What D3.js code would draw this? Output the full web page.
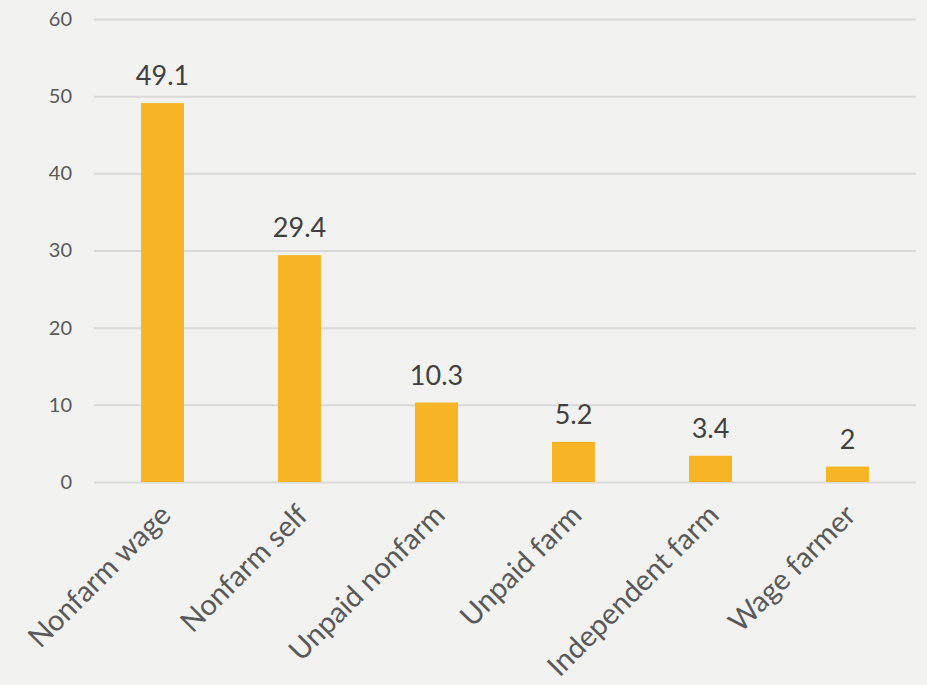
<!DOCTYPE html>
<html>
<head>
<meta charset="utf-8">
<script src="https://cdn.jsdelivr.net/npm/d3@7"></script>
<style>
  html, body { margin: 0; padding: 0; background: #f2f2f1; }
  svg { display: block; }
  text { font-family: Lato, "Open Sans", sans-serif; }
</style>
</head>
<body>
<svg id="chart" width="927" height="685"></svg>
<script>
// Employment type shares (%)
const categories = ["Nonfarm wage", "Nonfarm self", "Unpaid nonfarm", "Unpaid farm", "Independent farm", "Wage farmer"];
const values = [49.1, 29.4, 10.3, 5.2, 3.4, 2];
const valueLabels = ["49.1", "29.4", "10.3", "5.2", "3.4", "2"];
const yTicks = [0, 10, 20, 30, 40, 50, 60];

const svg = d3.select("#chart");
const W = 927, H = 685;
const margin = { top: 19, right: 11, bottom: 203, left: 94 };
const plotW = W - margin.left - margin.right;
const plotH = H - margin.top - margin.bottom;

svg.append("rect").attr("width", W).attr("height", H).attr("fill", "#f2f2f1");

const g = svg.append("g").attr("transform", `translate(${margin.left},${margin.top})`);

const x = d3.scaleBand().domain(categories).range([0, plotW]).paddingInner(0.686).paddingOuter(0.343);
const y = d3.scaleLinear().domain([0, 60]).range([plotH, 0]);

// Horizontal gridlines with tick labels
const yAxis = d3.axisLeft(y).tickValues(yTicks).tickSize(-plotW).tickPadding(22).tickFormat(d3.format("d"));
const ya = g.append("g").call(yAxis);
ya.select(".domain").remove();
ya.selectAll(".tick line").attr("stroke", "#d9d9d9").attr("stroke-width", 2);
ya.selectAll(".tick text").attr("fill", "#595959").attr("font-size", 20).attr("font-family", "Lato, sans-serif");

// Bars
g.selectAll("rect.bar").data(values).join("rect")
  .attr("class", "bar")
  .attr("x", (d, i) => x(categories[i]))
  .attr("y", d => y(d))
  .attr("width", x.bandwidth())
  .attr("height", d => y(0) - y(d))
  .attr("fill", "#f7b425");

// Value labels above bars
g.selectAll("text.val").data(values).join("text")
  .attr("class", "val")
  .attr("x", (d, i) => x(categories[i]) + x.bandwidth() / 2)
  .attr("y", d => y(d) - 18)
  .attr("text-anchor", "middle")
  .attr("fill", "#404040")
  .attr("font-size", 27)
  .text((d, i) => valueLabels[i]);

// Category axis, labels rotated -45°
const xAxis = d3.axisBottom(x).tickSize(0).tickPadding(0);
const xa = g.append("g").attr("transform", `translate(0,${plotH})`).call(xAxis);
xa.select(".domain").remove();
xa.selectAll(".tick text")
  .attr("fill", "#595959")
  .attr("font-size", 29)
  .attr("font-family", "Lato, sans-serif")
  .attr("text-anchor", "end")
  .attr("dy", 0)
  .attr("transform", "translate(10,35) rotate(-45)");
</script>
</body>
</html>
